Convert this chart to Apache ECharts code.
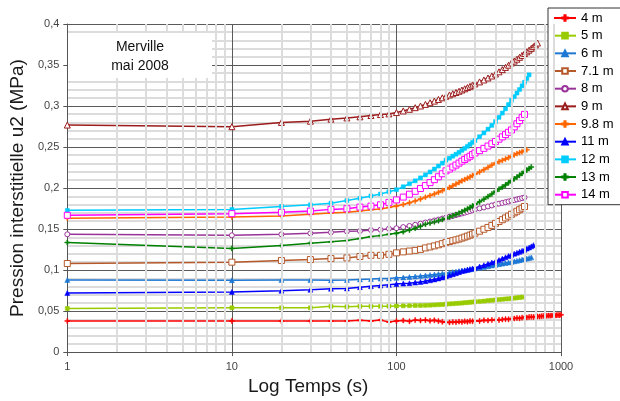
<!DOCTYPE html>
<html>
<head>
<meta charset="utf-8">
<script src="https://cdn.jsdelivr.net/npm/echarts@6/dist/echarts.min.js"></script>
<style>html,body{margin:0;padding:0;background:#fff}#c{width:620px;height:401px}</style>
</head>
<body>
<div id="c"></div>
<script>
// Time samples (s)
var T = [1,10,20,30,40,50,60,70,80,90,100,110,120,130,140,150,160,170,180,190,200,210,220,230,240,250,260,270,280,290,300,320,340,360,380,400,420,440,460,480,500,520,540,560,580,600,620,640,660,680,700,720,740,760,780,800,820,840,860,880,900,920,940,960,980,1000];

var names = ['4 m','5 m','6 m','7.1 m','8 m','9 m','9.8 m','11 m','12 m','13 m','14 m'];

var v4m = [0.038,0.038,0.0378,0.0378,0.0378,0.0378,0.0388,0.0378,0.039,0.0368,0.0378,0.0385,0.0375,0.039,0.0385,0.039,0.0382,0.0388,0.0378,0.037,0.0365,0.0362,0.0368,0.0365,0.0372,0.0368,0.0375,0.037,0.0378,0.0375,0.0382,0.038,0.0388,0.0385,0.0392,0.0395,0.0392,0.0398,0.0402,0.040,0.0408,0.041,0.0415,0.0412,0.042,0.0425,0.0422,0.0428,0.043,0.0428,0.0432,0.0435,0.0433,0.0438,0.044,0.0438,0.0442,0.0445,0.0443,0.0446,0.0448,0.0447,0.045,0.0452,0.045,0.0455];
var v5m = [0.0532,0.054,0.054,0.054,0.0558,0.0552,0.0558,0.0558,0.0558,0.056,0.0562,0.0564,0.0566,0.0568,0.0568,0.057,0.0572,0.0575,0.0578,0.058,0.0585,0.0588,0.059,0.0594,0.0596,0.0598,0.0602,0.0604,0.0608,0.061,0.0614,0.0618,0.0622,0.0628,0.0632,0.0636,0.064,0.0644,0.0648,0.065,0.0654,0.0658,0.0662,0.0666,0.067];
var v6m = [0.088,0.0876,0.088,0.088,0.0876,0.0878,0.0886,0.089,0.0896,0.0898,0.0905,0.091,0.0916,0.0922,0.0928,0.0934,0.094,0.0946,0.0952,0.0958,0.0965,0.097,0.0976,0.0982,0.0988,0.0994,0.0998,0.1004,0.1008,0.1014,0.102,0.1029,0.1038,0.1047,0.1056,0.1065,0.1072,0.1079,0.1086,0.1093,0.11,0.1107,0.1114,0.1121,0.1128,0.1135,0.1142,0.1148,0.1155];
var v71m = [0.108,0.1096,0.1116,0.1128,0.114,0.1148,0.1165,0.118,0.118,0.1192,0.121,0.1222,0.1232,0.124,0.1252,0.127,0.1282,0.1295,0.1308,0.1322,0.1338,0.1348,0.1358,0.1368,0.1378,0.139,0.1402,0.1414,0.1426,0.1438,0.145,0.1474,0.1498,0.152,0.1545,0.157,0.1592,0.1614,0.1636,0.1658,0.168,0.1698,0.1717,0.1736,0.1755,0.1775];
var v8m = [0.1436,0.1424,0.1436,0.1448,0.146,0.1472,0.1476,0.1488,0.1492,0.1504,0.151,0.1524,0.1538,0.1552,0.1566,0.158,0.1592,0.1604,0.1616,0.1628,0.164,0.165,0.166,0.167,0.168,0.169,0.17,0.171,0.172,0.173,0.174,0.1752,0.1764,0.1776,0.1788,0.18,0.181,0.1819,0.1828,0.1836,0.1845,0.1853,0.1861,0.1869,0.1877,0.1885];
var v9m = [0.2768,0.2748,0.28,0.2815,0.284,0.2855,0.2868,0.2884,0.2896,0.2904,0.292,0.294,0.296,0.298,0.300,0.302,0.304,0.306,0.308,0.310,0.312,0.3135,0.315,0.3165,0.318,0.3195,0.321,0.3225,0.324,0.3255,0.327,0.3294,0.3318,0.3342,0.3366,0.339,0.3417,0.3444,0.3471,0.3498,0.3525,0.3548,0.3571,0.3594,0.3617,0.364,0.3661,0.3682,0.3703,0.3724,0.3745,0.3768];
var v98m = [0.1632,0.1648,0.166,0.168,0.1696,0.1704,0.172,0.1736,0.1744,0.1764,0.178,0.18,0.182,0.1842,0.1865,0.1888,0.1908,0.1928,0.1948,0.1968,0.1988,0.2008,0.2028,0.2048,0.2068,0.2088,0.2104,0.212,0.2136,0.2152,0.2168,0.2196,0.2224,0.2252,0.228,0.2305,0.2322,0.2338,0.2354,0.237,0.2388,0.2404,0.242,0.2432,0.2444,0.2455,0.2466];
var v11m = [0.072,0.0734,0.0748,0.076,0.0772,0.0776,0.0792,0.0804,0.0812,0.082,0.083,0.0835,0.084,0.0848,0.0855,0.0865,0.0875,0.0886,0.0898,0.091,0.0925,0.0938,0.095,0.0962,0.0975,0.0988,0.0995,0.1005,0.1012,0.102,0.1028,0.1044,0.106,0.1076,0.1092,0.1108,0.1124,0.114,0.1156,0.1172,0.1188,0.12,0.1212,0.1224,0.1236,0.1248,0.1262,0.1276,0.129,0.1304];
var v12m = [0.1728,0.174,0.1776,0.1795,0.1816,0.1848,0.1876,0.1904,0.1928,0.1956,0.198,0.2016,0.2052,0.2088,0.2124,0.216,0.2196,0.2232,0.2268,0.2304,0.234,0.2364,0.2388,0.2412,0.2436,0.246,0.2484,0.2508,0.2532,0.2556,0.258,0.2626,0.2672,0.2718,0.2764,0.281,0.2862,0.2914,0.2966,0.3018,0.307,0.3114,0.3158,0.3202,0.3246,0.329,0.3335,0.338];
var v13m = [0.1336,0.1264,0.13,0.1328,0.1344,0.136,0.1384,0.1408,0.142,0.1436,0.1448,0.1468,0.1488,0.151,0.1535,0.156,0.1574,0.1588,0.1602,0.1616,0.163,0.1646,0.1662,0.1678,0.1694,0.171,0.1728,0.1746,0.1764,0.1782,0.18,0.1832,0.1864,0.1896,0.1928,0.196,0.1986,0.2012,0.2038,0.2064,0.209,0.2112,0.2134,0.2156,0.2178,0.22,0.2219,0.2238,0.2256];
var v14m = [0.1668,0.1688,0.1704,0.172,0.174,0.1748,0.1768,0.178,0.1796,0.1825,0.1855,0.189,0.1925,0.196,0.1995,0.203,0.2066,0.2102,0.2138,0.2174,0.221,0.2232,0.2256,0.228,0.2304,0.2328,0.2348,0.2368,0.2388,0.2408,0.2428,0.2456,0.2484,0.2512,0.254,0.2568,0.2596,0.2624,0.2652,0.268,0.2708,0.2746,0.2784,0.2822,0.286,0.2898];

var minorX = [2,3,4,5,6,7,8,9,20,30,40,50,60,70,80,90,200,300,400,500,600,700,800,900];

var plus = 'path://M2,0L3,0L3,2L5,2L5,3L3,3L3,5L2,5L2,3L0,3L0,2L2,2Z';
var styles = [
  {c:'#FF0000', s:plus, z:5, h:false},
  {c:'#99CC00', s:'rect', z:4, h:false},
  {c:'#1E78D4', s:'triangle', z:5, h:false},
  {c:'#B5592B', s:'rect', z:6, h:true},
  {c:'#993399', s:'circle', z:5, h:true},
  {c:'#9B1C1C', s:'triangle', z:6, h:true},
  {c:'#FF6600', s:plus, z:5, h:false},
  {c:'#0000FF', s:'triangle', z:5, h:false},
  {c:'#00CCFF', s:'rect', z:4, h:false},
  {c:'#008000', s:plus, z:5, h:false},
  {c:'#FF00FF', s:'rect', z:6, h:true}
];
var vals = [v4m,v5m,v6m,v71m,v8m,v9m,v98m,v11m,v12m,v13m,v14m];

var FONT = 'Liberation Sans, Arial, sans-serif';
var series = vals.map(function(arr, k){
  var st = styles[k];
  return {
    name: names[k], type: 'line', z: 3,
    data: arr.map(function(v,i){ return [T[i], v]; }),
    symbol: st.s, symbolSize: st.z, showAllSymbol: true,
    itemStyle: st.h ? {color: '#fff', borderColor: st.c, borderWidth: 1}
                    : {color: st.c, borderColor: st.c, borderWidth: 0.5},
    lineStyle: {color: st.c, width: 1.5},
    emphasis: {disabled: true}
  };
});
series.unshift({
  name: 'minor', type: 'line', z: -1, data: [], silent: true,
  markLine: {silent: true, symbol: 'none', animation: false, label: {show: false},
    lineStyle: {color: '#dcdcdc', width: 2, type: 'solid'},
    data: minorX.map(function(x){ return {xAxis: x}; })}
});

var chart = echarts.init(document.getElementById('c'), null, {renderer: 'canvas'});
chart.setOption({
  animation: false,
  backgroundColor: '#fff',
  grid: {left: 64, right: 59, top: 24, bottom: 44, containLabel: false},
  xAxis: {
    type: 'log', logBase: 10, min: 1, max: 1000,
    name: 'Log Temps (s)', nameLocation: 'middle', nameGap: 21,
    nameTextStyle: {fontFamily: FONT, fontSize: 19, color: '#1a1a1a', padding: [0, 12, 0, 0]},
    axisLine: {show: true, lineStyle: {color: '#555', width: 1}},
    axisTick: {show: true, length: 4, lineStyle: {color: '#555'}},
    axisLabel: {fontFamily: FONT, fontSize: 11, color: '#444', margin: 9, formatter: function(v){ return String(v); }},
    splitLine: {show: true, lineStyle: {color: '#5a5a5a', width: 1}},
    minorTick: {show: false}, minorSplitLine: {show: false}
  },
  yAxis: {
    type: 'value', min: 0, max: 0.4, interval: 0.05,
    name: 'Pression interstitielle u2 (MPa)', nameLocation: 'middle', nameGap: 37,
    nameTextStyle: {fontFamily: FONT, fontSize: 19, color: '#1a1a1a'},
    axisLine: {show: true, lineStyle: {color: '#555', width: 1}},
    axisTick: {show: true, length: 4, lineStyle: {color: '#555'}},
    axisLabel: {fontFamily: FONT, fontSize: 11, color: '#444', margin: 8,
      formatter: function(v){ return String(+v.toFixed(2)).replace('.', ','); }},
    splitLine: {show: true, lineStyle: {color: '#5a5a5a', width: 1}},
    minorTick: {show: false, splitNumber: 5},
    minorSplitLine: {show: true, lineStyle: {color: '#dcdcdc', width: 2}}
  },
  legend: {
    data: names, orient: 'vertical', left: 548, top: 8,
    padding: [3, 8, 3, 5], itemGap: 3.67, itemWidth: 22, itemHeight: 7,
    backgroundColor: '#fff', borderColor: '#333', borderWidth: 1, borderRadius: 0,
    textStyle: {fontFamily: FONT, fontSize: 13, lineHeight: 14, color: '#000'},
    selectedMode: false
  },
  graphic: [
    {type: 'rect', z: 100, shape: {x: 68, y: 33, width: 144, height: 45}, style: {fill: '#fff'}},
    {type: 'text', z: 101, x: 140, y: 47, style: {text: 'Merville', font: '14px Liberation Sans', fill: '#111', textAlign: 'center', textVerticalAlign: 'middle'}},
    {type: 'text', z: 101, x: 140, y: 66, style: {text: 'mai 2008', font: '14px Liberation Sans', fill: '#111', textAlign: 'center', textVerticalAlign: 'middle'}}
  ],
  series: series
});
</script>
</body>
</html>
